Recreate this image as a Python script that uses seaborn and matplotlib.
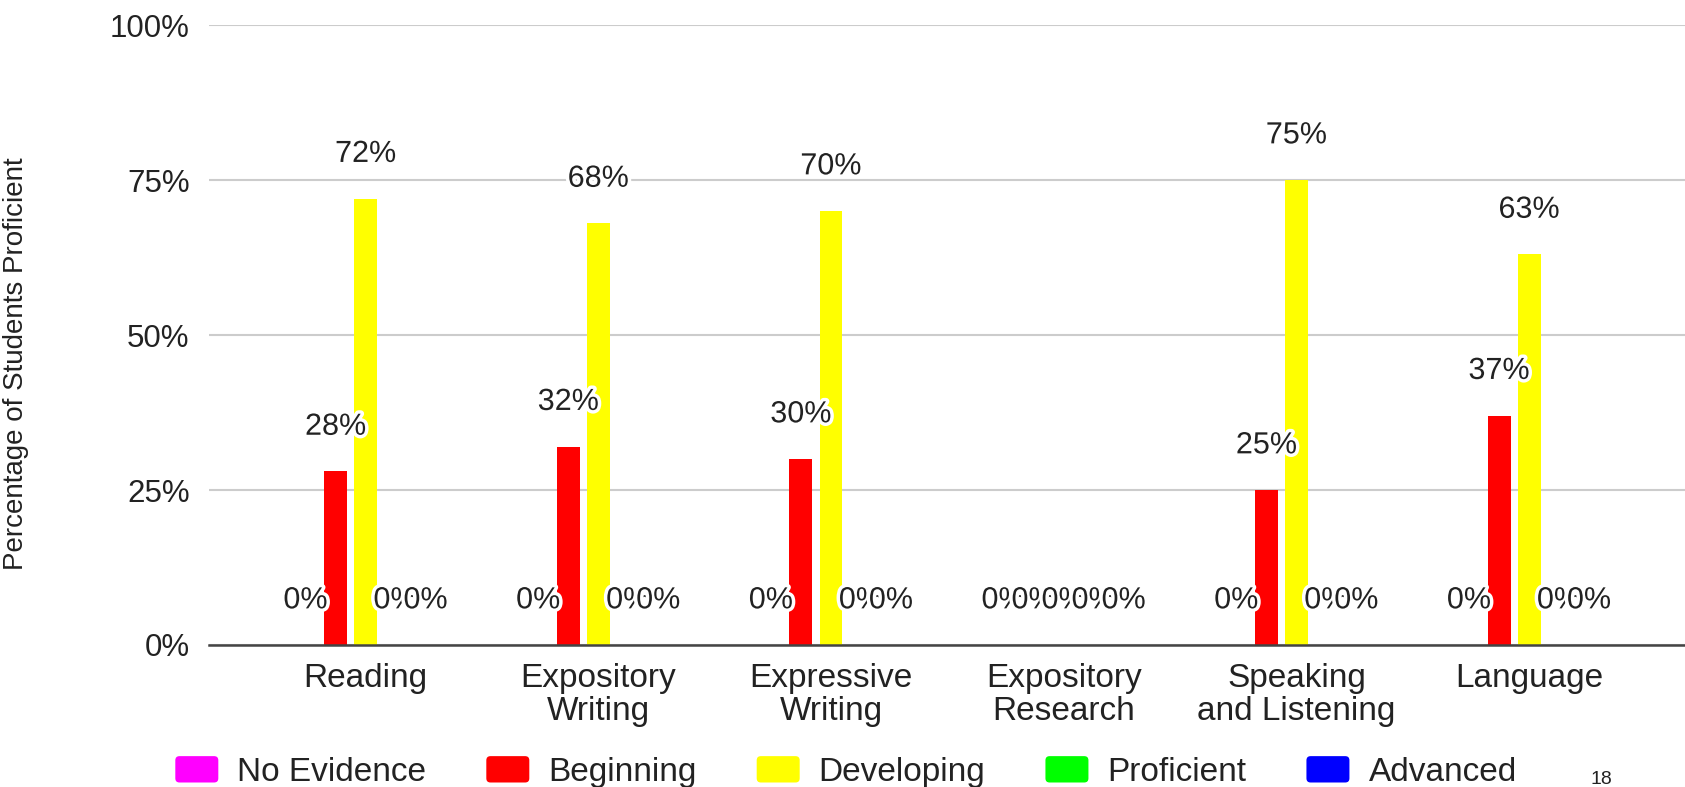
import matplotlib
matplotlib.use("Agg")
import matplotlib.pyplot as plt
from matplotlib import font_manager
from matplotlib.patches import FancyBboxPatch
from matplotlib.legend_handler import HandlerPatch
import matplotlib.patheffects as pe
import numpy as np
import pandas as pd
import seaborn as sns

# ---- data ----
skills = ["Reading", "Expository\nWriting", "Expressive\nWriting",
          "Expository\nResearch", "Speaking\nand Listening", "Language"]
levels = ["No Evidence", "Beginning", "Developing", "Proficient", "Advanced"]
no_evidence = [0, 0, 0, 0, 0, 0]
beginning = [28, 32, 30, 0, 25, 37]
developing = [72, 68, 70, 0, 75, 63]
proficient = [0, 0, 0, 0, 0, 0]
advanced = [0, 0, 0, 0, 0, 0]
level_colors = ["#FF00FF", "#FF0000", "#FFFF00", "#00FF00", "#0000FF"]
y_ticks = [0, 25, 50, 75, 100]
y_ticklabels = ["0%", "25%", "50%", "75%", "100%"]
y_title = "Percentage of Students Proficient"
page_number = "18"

series = [no_evidence, beginning, developing, proficient, advanced]
df = pd.DataFrame({
    "Skill": skills * len(levels),
    "Level": [lv for lv in levels for _ in skills],
    "Percent": [v for s in series for v in s],
})

# ---- style ----
sns.set_theme(style="white")
plt.rcParams["font.family"] = ["Liberation Sans", "DejaVu Sans"]
text_color = "#222222"
installed = {f.name for f in font_manager.fontManager.ttflist}
narrow = "Liberation Sans Narrow" if "Liberation Sans Narrow" in installed else None

fig = plt.figure(figsize=(16.85, 7.87), dpi=100)
ax = fig.add_axes([209 / 1685, 142 / 787, 1476 / 1685, 620 / 787])

sns.barplot(data=df, x="Skill", y="Percent", hue="Level", order=skills,
            hue_order=levels, palette=level_colors, width=0.645, gap=0.234,
            linewidth=0, saturation=1, legend=False, ax=ax, zorder=2)

# value labels above every bar
for container in ax.containers:
    for bar, val in zip(container.patches, container.datavalues):
        cx = bar.get_x() + bar.get_width() / 2
        ax.text(cx, val + 7.2, f"{val:.0f}%", ha="center", va="center",
                fontsize=22, color=text_color, zorder=5,
                path_effects=[pe.withStroke(linewidth=5, foreground="white")])

ax.set_ylim(0, 100)
ax.set_xlim(-0.673, 5.67)
ax.set_yticks(y_ticks)
ax.set_yticklabels(y_ticklabels)
ax.yaxis.grid(True, color="#cccccc", linewidth=1.5, zorder=0)
ax.set_axisbelow(True)
for side in ["top", "right", "left"]:
    ax.spines[side].set_visible(False)
ax.spines["bottom"].set_color("#444444")
ax.spines["bottom"].set_linewidth(1.8)
ax.spines["bottom"].set_zorder(3)
ax.tick_params(axis="y", length=0, pad=14, labelsize=22.5, labelcolor=text_color)
ax.tick_params(axis="x", length=0, pad=13, labelsize=24, labelcolor=text_color)
for lab in ax.get_xticklabels():
    lab.set_linespacing(1.1)
ax.set_xlabel("")

ylab_kw = dict(fontsize=24.5, family=narrow) if narrow else dict(fontsize=20)
ax.set_ylabel(y_title, color=text_color, **ylab_kw)
ax.yaxis.set_label_coords((29 - 209) / 1476, (645 - 364) / 620)


# rounded square legend keys
def rounded_key(legend, orig_handle, xdescent, ydescent, width, height, fontsize):
    return FancyBboxPatch((-xdescent, -ydescent), width, height,
                          boxstyle="round,pad=0,rounding_size=3")


handles = [plt.Rectangle((0, 0), 1, 1, facecolor=c, edgecolor="none")
           for c in level_colors]
fs_pt = 24
fs_px = fs_pt * 100 / 72
fig.legend(handles, levels, loc="center", bbox_to_anchor=(846 / 1685, 1 - 772 / 787),
           ncol=5, frameon=False, fontsize=fs_pt, labelcolor=text_color,
           handlelength=43 / fs_px, handleheight=28 / fs_px,
           handletextpad=19 / fs_px, columnspacing=60 / fs_px,
           handler_map={plt.Rectangle: HandlerPatch(patch_func=rounded_key)})

fig.text(1601 / 1685, 1 - 780 / 787, page_number, ha="center", va="center",
         fontsize=14, color=text_color)

fig.savefig("out.png", dpi=100)
